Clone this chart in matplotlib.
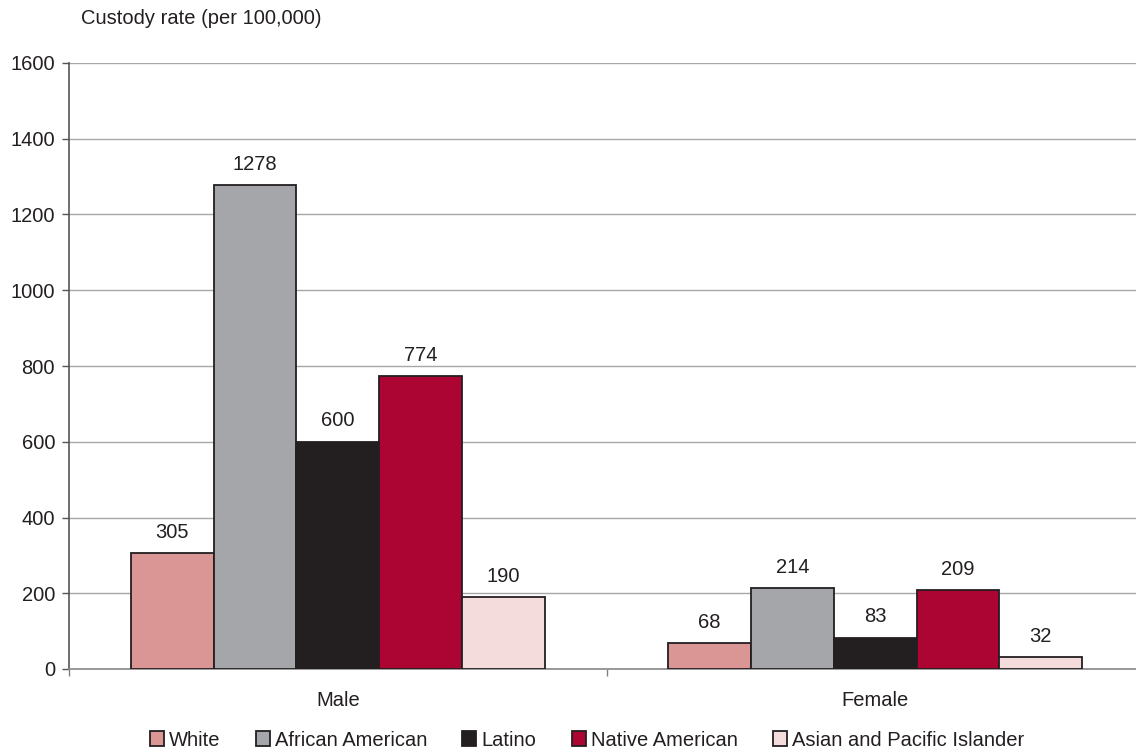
import matplotlib
matplotlib.use("Agg")
import matplotlib.pyplot as plt
import numpy as np

groups = ["Male", "Female"]
series = ["White", "African American", "Latino", "Native American", "Asian and Pacific Islander"]
values = {
    "White": [305, 68],
    "African American": [1278, 214],
    "Latino": [600, 83],
    "Native American": [774, 209],
    "Asian and Pacific Islander": [190, 32],
}
colors = ["#D99694", "#A5A6A9", "#231F20", "#AC0433", "#F3DCDB"]
yticks = [0, 200, 400, 600, 800, 1000, 1200, 1400, 1600]

FS = 14.5
TXT = "#231F20"

plt.rcParams["font.family"] = ["Liberation Sans", "DejaVu Sans"]
fig = plt.figure(figsize=(11.36, 7.5), dpi=100)
ax = fig.add_axes([69 / 1136, 1 - 669 / 750, (1144 - 69) / 1136, (669 - 63) / 750])

x = np.arange(len(groups))
width = 0.154
for i, (name, col) in enumerate(zip(series, colors)):
    pos = x + (i - 2) * width
    bars = ax.bar(pos, values[name], width, color=col, edgecolor=TXT,
                  linewidth=1.3, label=name, zorder=3)
    for b, v in zip(bars, values[name]):
        ax.annotate(str(v), (b.get_x() + b.get_width() / 2, v), xytext=(0, 15),
                    textcoords="offset points", ha="center", va="center",
                    fontsize=FS, color=TXT)

ax.set_xlim(-0.5, 1.5)
ax.set_ylim(0, 1600)
ax.set_yticks(yticks)
ax.set_yticklabels([str(t) for t in yticks], fontsize=FS, color=TXT)
ax.yaxis.grid(True, color="#A7A7A9", linewidth=1.0, zorder=0)
ax.set_axisbelow(True)

ax.set_xticks(x)
ax.set_xticklabels(groups, fontsize=FS, color=TXT)
ax.tick_params(axis="x", which="major", length=0, pad=16)
ax.set_xticks([-0.5, 0.5, 1.5], minor=True)
ax.tick_params(axis="x", which="minor", length=5, color="#808080", width=1)
ax.tick_params(axis="y", length=5, color="#555555", width=1, pad=5)

for s in ["top", "right"]:
    ax.spines[s].set_visible(False)
ax.spines["left"].set_color("#555555")
ax.spines["left"].set_linewidth(1.2)
ax.spines["bottom"].set_color("#888888")
ax.spines["bottom"].set_linewidth(1.2)

fig.text(81 / 1136, 1 - 19 / 750, "Custody rate (per 100,000)", fontsize=FS,
         color=TXT, ha="left", va="center")

fig.legend(loc="center", bbox_to_anchor=(587 / 1136, 1 - 740 / 750), ncol=5, frameon=False,
           fontsize=FS, handlelength=0.7, handleheight=0.7, handletextpad=0.25,
           columnspacing=1.75, labelcolor=TXT, borderpad=0)

fig.savefig("out.png", dpi=100)
